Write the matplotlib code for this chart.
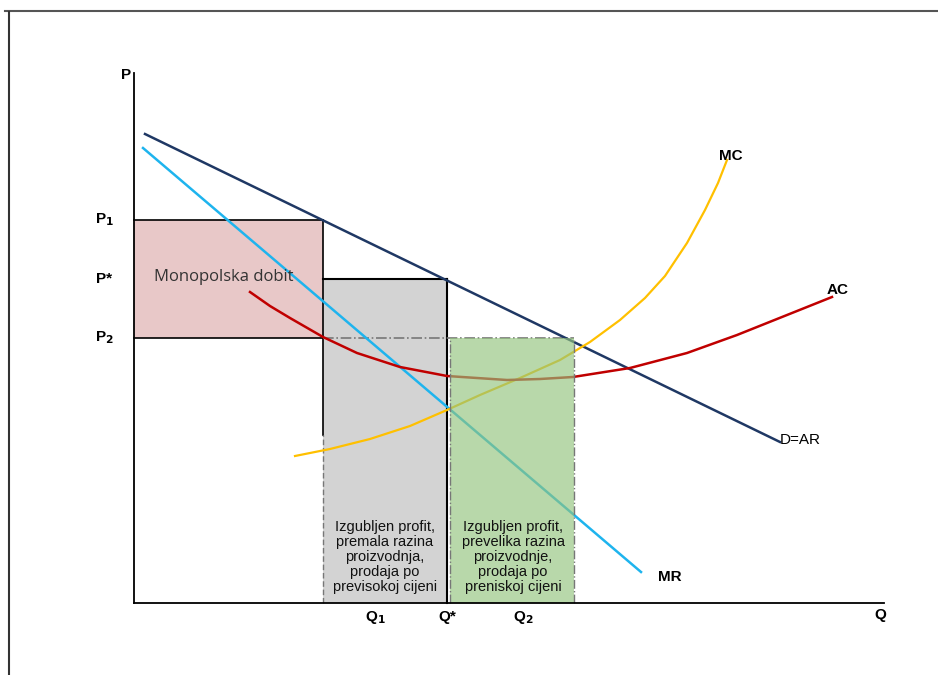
import numpy as np
import matplotlib.pyplot as plt
from matplotlib.patches import Rectangle
from matplotlib.lines import Line2D

plt.rcParams['font.family'] = ['Liberation Sans', 'DejaVu Sans']

# Key levels (chart units, origin at axes corner)
P1, P_star, P2 = 383, 324, 265
Q1, Q_star, Q2 = 189, 313, 440
Q_green = 316

# Demand (D=AR) and marginal revenue (MR), straight lines
d_q = [11, 646]
d_p = [469, 161]
mr_q = [9, 507]
mr_p = [455, 31]

# Marginal cost
mc_q = [161, 196, 236, 276, 313, 346, 386, 426, 456, 486, 511, 531, 553, 571, 584, 593]
mc_p = [147, 154, 164, 177, 193, 208, 225, 243, 261, 283, 305, 327, 360, 393, 420, 443]

# Average cost
ac_q = [116, 136, 156, 189, 223, 266, 313, 373, 406, 439, 496, 553, 603, 653, 698]
ac_p = [311, 297, 285, 266, 250, 236, 227, 223, 224, 226, 235, 250, 268, 288, 306]

fig = plt.figure(figsize=(9.38, 6.75), dpi=100)
ax = fig.add_axes([0, 0, 1, 1])
ax.set_xlim(-134, 804)
ax.set_ylim(-72, 603)
ax.axis('off')

# outer frame
fig.add_artist(Line2D([0.005, 1.0], [1 - 11 / 675, 1 - 11 / 675], color='#555555', lw=1.5))
fig.add_artist(Line2D([9 / 938, 9 / 938], [0, 1 - 12 / 675], color='#333333', lw=1.5))

# shaded areas
ax.add_patch(Rectangle((0, P2), Q1, P1 - P2, facecolor='#E8C8C8', edgecolor='none', zorder=1))
ax.add_patch(Rectangle((Q1, 0), Q_star - Q1, P_star, facecolor='#D3D3D3', edgecolor='none', zorder=1))

# rectangle edges
ax.plot([0, Q1], [P1, P1], color='black', lw=1.2, zorder=2)
ax.plot([0, Q1], [P2, P2], color='black', lw=1.2, zorder=2)
ax.plot([Q1, Q1], [168, P1], color='black', lw=1.2, zorder=2)
ax.plot([Q1, Q1], [0, 168], color='#777777', lw=1.0, ls=(0, (4, 2)), zorder=2)
ax.plot([Q1, Q_star], [P_star, P_star], color='black', lw=1.5, zorder=2)
ax.plot([Q_star, Q_star], [0, P_star], color='black', lw=1.5, zorder=2)
ax.plot([Q1, Q2], [P2, P2], color='#777777', lw=1.2, ls='-.', zorder=2)

# curves
ax.plot(d_q, d_p, color='#1F3864', lw=1.8, zorder=3)
ax.plot(mr_q, mr_p, color='#1EB4EE', lw=1.8, zorder=3)
ax.plot(mc_q, mc_p, color='#FFC000', lw=1.6, zorder=3, solid_joinstyle='round')
ax.plot(ac_q, ac_p, color='#C00000', lw=1.8, zorder=3, solid_joinstyle='round')

# green area over the curves
ax.add_patch(Rectangle((Q_green, 0), Q2 - Q_green, P2, facecolor='#93C47D', alpha=0.65,
                       edgecolor='none', zorder=4))
ax.plot([Q_green, Q_green], [0, P2], color='#777777', lw=1.0, ls='-.', zorder=4)
ax.plot([Q2, Q2], [0, P2], color='#777777', lw=1.0, ls='-.', zorder=4)

# axes
ax.plot([0, 0], [0, 530], color='black', lw=1.3, zorder=5)
ax.plot([0, 750], [0, 0], color='black', lw=1.3, zorder=5)
ax.text(-8, 528, 'P', fontsize=11, fontweight='bold', ha='center', va='center')
ax.text(746, -12, 'Q', fontsize=11, fontweight='bold', ha='center', va='center')

# tick labels
for val, lab in [(P1, r'P$_\mathbf{1}$'), (P_star, 'P*'), (P2, r'P$_\mathbf{2}$')]:
    ax.text(-30, val, lab, fontsize=11, fontweight='bold', ha='center', va='center')
for val, lab in [(241, r'Q$_\mathbf{1}$'), (Q_star, 'Q*'), (389, r'Q$_\mathbf{2}$')]:
    ax.text(val, -14, lab, fontsize=11, fontweight='bold', ha='center', va='center')

# curve labels
ax.text(597, 447, 'MC', fontsize=11, fontweight='bold', ha='center', va='center')
ax.text(704, 313, 'AC', fontsize=11, fontweight='bold', ha='center', va='center')
ax.text(646, 163, 'D=AR', fontsize=11, ha='left', va='center')
ax.text(536, 26, 'MR', fontsize=11, fontweight='bold', ha='center', va='center')

ax.text(90, 326, 'Monopolska dobit', fontsize=12, color='#333333', ha='center', va='center',
        family=['Open Sans', 'DejaVu Sans'], zorder=6)
ax.text(251, 46, 'Izgubljen profit,\npremala razina\nproizvodnja,\nprodaja po\nprevisokoj cijeni',
        fontsize=10.5, ha='center', va='center', linespacing=1.1, color='#111111', zorder=6)
ax.text(379, 46, 'Izgubljen profit,\nprevelika razina\nproizvodnje,\nprodaja po\npreniskoj cijeni',
        fontsize=10.5, ha='center', va='center', linespacing=1.1, color='#111111', zorder=6)

plt.savefig('out.png', dpi=100)
